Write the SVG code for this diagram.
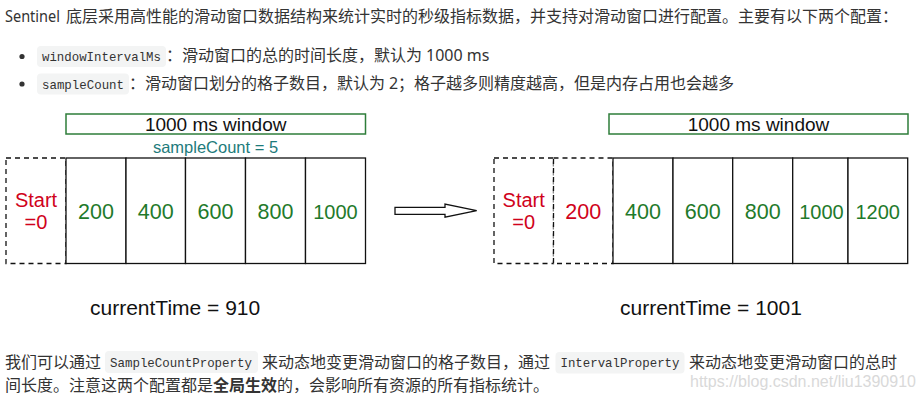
<svg xmlns="http://www.w3.org/2000/svg" width="924" height="400" viewBox="0 0 924 400">
<style>
.body{font-family:"Noto Sans","Noto Sans CJK SC",sans-serif;font-size:16px;fill:#333}
.code{font-family:"Liberation Mono",monospace;font-size:12.8px;fill:#333}
.chip{fill:#f3f4f4}
.dia{font-family:"Liberation Sans",Arial,sans-serif}
.win{fill:#fff;stroke:#2e7d3a;stroke-width:1.5}
.wintxt{font-size:19px;fill:#111;text-anchor:middle}
.cell{fill:#fff;stroke:#111;stroke-width:1.3}
.dash{fill:#fff;stroke:#111;stroke-width:1.3;stroke-dasharray:5 4}
.num{font-size:21.5px;fill:#1f7a2b;text-anchor:middle}
.num4{font-size:20px;fill:#1f7a2b;text-anchor:middle}
.red{fill:#d0021b}
.start{font-size:20px;fill:#d0021b;text-anchor:middle}
.cur{font-size:21px;fill:#111}
</style>
<rect width="924" height="400" fill="#fff"/>

<g id="intro">
<text class="body" x="5" y="22" textLength="55" lengthAdjust="spacingAndGlyphs">Sentinel</text>
<text class="body" x="66" y="22">底层采用高性能的滑动窗口数据结构来统计实时的秒级指标数据，并支持对滑动窗口进行配置。主要有以下两个配置：</text>
</g>

<g id="bullet1">
<circle cx="22" cy="56.5" r="2.6" fill="#333"/>
<rect class="chip" x="37" y="46" width="129" height="21" rx="4"/>
<text class="code" x="42" y="61" textLength="119" lengthAdjust="spacingAndGlyphs">windowIntervalMs</text>
<text class="body" x="166" y="61">：滑动窗口的总的时间长度，默认为</text>
<text class="body" x="426" y="61">1000 ms</text>
</g>

<g id="bullet2">
<circle cx="22" cy="84" r="2.6" fill="#333"/>
<rect class="chip" x="37" y="73.5" width="92" height="21" rx="4"/>
<text class="code" x="42" y="89" textLength="82" lengthAdjust="spacingAndGlyphs">sampleCount</text>
<text class="body" x="129" y="89">：滑动窗口划分的格子数目，默认为</text>
<text class="body" x="389" y="89">2</text>
<text class="body" x="398" y="89">；格子越多则精度越高，但是内存占用也会越多</text>
</g>

<g id="left-window" class="dia">
<rect class="win" x="66" y="114" width="299.5" height="20"/>
<text class="wintxt" x="215.7" y="130.5">1000 ms window</text>
<text x="215.5" y="152.5" font-size="16.5" fill="#1e7b7b" text-anchor="middle">sampleCount = 5</text>
</g>

<g id="left-start" class="dia">
<rect class="dash" x="6" y="158" width="60" height="105.5"/>
<text class="start" x="36" y="207">Start</text>
<text class="start" x="36" y="229">=0</text>
</g>
<g id="left-200" class="dia"><rect class="cell" x="66" y="158" width="60" height="105.5"/><text class="num" x="96" y="218.5">200</text></g>
<g id="left-400" class="dia"><rect class="cell" x="126" y="158" width="59.5" height="105.5"/><text class="num" x="155.7" y="218.5">400</text></g>
<g id="left-600" class="dia"><rect class="cell" x="185.5" y="158" width="60" height="105.5"/><text class="num" x="215.5" y="218.5">600</text></g>
<g id="left-800" class="dia"><rect class="cell" x="245.5" y="158" width="60" height="105.5"/><text class="num" x="275.5" y="218.5">800</text></g>
<g id="left-1000" class="dia"><rect class="cell" x="305.5" y="158" width="60" height="105.5"/><text class="num4" x="335.5" y="218.5">1000</text></g>

<g id="right-window" class="dia">
<rect class="win" x="609" y="114" width="299" height="20"/>
<text class="wintxt" x="758.5" y="130.5">1000 ms window</text>
</g>

<g id="right-start" class="dia">
<rect class="dash" x="494" y="158" width="59.5" height="105.5"/>
<text class="start" x="523.7" y="207">Start</text>
<text class="start" x="523.7" y="229">=0</text>
</g>
<g id="right-200" class="dia"><rect class="dash" x="553.5" y="158" width="59.5" height="105.5"/><text class="num red" x="583.2" y="218.5">200</text></g>
<g id="right-400" class="dia"><rect class="cell" x="613" y="158" width="60" height="105.5"/><text class="num" x="643" y="218.5">400</text></g>
<g id="right-600" class="dia"><rect class="cell" x="673" y="158" width="59.7" height="105.5"/><text class="num" x="702.8" y="218.5">600</text></g>
<g id="right-800" class="dia"><rect class="cell" x="732.7" y="158" width="60" height="105.5"/><text class="num" x="762.7" y="218.5">800</text></g>
<g id="right-1000" class="dia"><rect class="cell" x="792.7" y="158" width="55.3" height="105.5"/><text class="num4" x="821.5" y="218.5">1000</text></g>
<g id="right-1200" class="dia"><rect class="cell" x="848" y="158" width="59.7" height="105.5"/><text class="num4" x="877.7" y="218.5">1200</text></g>

<g id="connectors">
<polygon points="395,207.3 445,207.3 445,204 476.7,210.7 445,217.2 445,214.3 395,214.3" fill="#fff" stroke="#111" stroke-width="1.3" stroke-linejoin="miter"/>
</g>

<g id="time-left" class="dia"><text class="cur" x="90" y="315">currentTime = 910</text></g>
<g id="time-right" class="dia"><text class="cur" x="620" y="315">currentTime = 1001</text></g>

<g id="outro">
<text class="body" x="5" y="368">我们可以通过</text>
<rect class="chip" x="105" y="351" width="153" height="22" rx="4"/>
<text class="code" x="110" y="367" textLength="142" lengthAdjust="spacingAndGlyphs">SampleCountProperty</text>
<text class="body" x="262" y="368">来动态地变更滑动窗口的格子数目，通过</text>
<rect class="chip" x="555.5" y="352" width="129" height="21.5" rx="4"/>
<text class="code" x="560.5" y="367" textLength="119" lengthAdjust="spacingAndGlyphs">IntervalProperty</text>
<text class="body" x="689" y="368">来动态地变更滑动窗口的总时</text>
<text class="body" x="5" y="391">间长度。注意这两个配置都是<tspan font-weight="bold">全局生效</tspan>的，会影响所有资源的所有指标统计。</text>
<text x="690" y="386.5" font-family="Liberation Sans,Arial,sans-serif" font-size="16" fill="#d9d9d9">https://blog.csdn.net/liu1390910</text>
</g>
</svg>
